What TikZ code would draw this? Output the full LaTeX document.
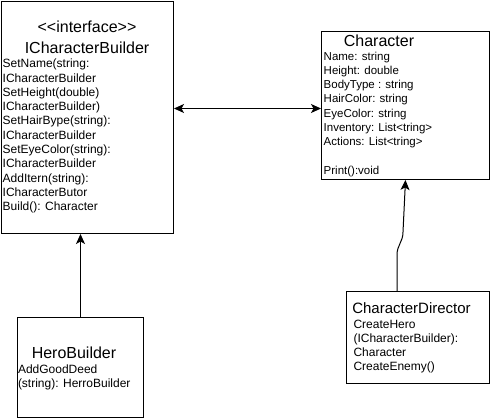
\documentclass[tikz,border=0pt]{standalone}
\usepackage{fontspec}
\setmainfont{Liberation Sans}[Ligatures=TeXOff]
\usepackage{tikz}
\usetikzlibrary{arrows.meta}
\usetikzlibrary{positioning}

\begin{document}
\begin{tikzpicture}[x=1pt,y=-1pt,
		classbox/.style={draw,line width=1pt,anchor=north west,inner sep=0pt},
		title/.style={font=\fontsize{16}{19.2}\selectfont,inner sep=0pt,anchor=base},
		member/.style={font=\fontsize{12}{14.4}\selectfont,inner sep=0pt,anchor=base west},
		link/.style={line width=1pt,-{Stealth[length=10pt,width=9pt,inset=2.5pt]}},
		both/.style={line width=1pt,{Stealth[length=10pt,width=9pt,inset=2.5pt]}-{Stealth[length=10pt,width=9pt,inset=2.5pt]}}
	]
	\useasboundingbox (0,0) rectangle (490,418);

	% the interface ICharacterBuilder
	\node[classbox,minimum width=172pt,minimum height=232pt] (icb) at (1,1) {};
	\begin{scope}[shift={(1,1)}]
		\node[title] (icbstereo) at (86,31.7) {<<interface>>};
		\node[title] (icbname) at (86,52.3) {ICharacterBuilder};
		\foreach \m [count=\i from 0] in {SetName(string:,ICharacterBuilder,SetHeight(double),
			ICharacterBuilder),SetHairBype(string):,ICharacterBuilder,SetEyeColor(string):,
			ICharacterBuilder,AddItern(string):,ICharacterButor,Build(): Character}
		\node[member] (icbm\i) at (1.5,{66.7+14.3*\i}) {\m};
	\end{scope}

	% the class Character
	\node[classbox,minimum width=168pt,minimum height=148pt] (chr) at (321,31) {};
	\begin{scope}[shift={(321,31)}]
		\node[title] (chrname) at (58,15.7) {Character};
		\foreach \i/\m in {0/Name: string,1/Height: double,2/BodyType : string,3/HairColor: string,
			4/EyeColor: string,5/Inventory: List<tring>,6/Actions: List<tring>,8/Print():void}
		\node[member,font=\fontsize{11.5}{14}\selectfont] (chrm\i) at (2.5,{29+14.3*\i}) {\m};
	\end{scope}

	% the class HeroBuilder
	\node[classbox,minimum width=126pt,minimum height=100pt] (hero) at (17,317) {};
	\begin{scope}[shift={(17,317)}]
		\node[title] (heroname) at (57,41) {HeroBuilder};
		\foreach \m [count=\i from 0] in {AddGoodDeed,(string): HerroBuilder}
		\node[member] (herom\i) at (0.8,{56.5+13.7*\i}) {\m};
	\end{scope}

	% the class CharacterDirector
	\node[classbox,minimum width=143pt,minimum height=92pt] (dir) at (346,291) {};
	\begin{scope}[shift={(346,291)}]
		\node[title,font=\fontsize{15}{18}\selectfont] (dirname) at (65.5,22.3) {CharacterDirector};
		\foreach \m [count=\i from 0] in {CreateHero,(ICharacterBuilder):,Character,CreateEnemy()}
		\node[member] (dirm\i) at (7.3,{37.3+13.9*\i}) {\m};
	\end{scope}

	% the bends of the director link
	\coordinate (k1) at (397,255);
	\coordinate (k2) at (403,232);

	% the links
	\draw[both] ([yshift=9pt]icb.east) -- ([yshift=-3pt]chr.west);
	\draw[link] (hero.north) -- (hero.north |- icb.south);
	\draw[link] (dir.north -| k1) -- (k1) .. controls (397,245) and (403,242) .. (k2) -- (chr.south);
\end{tikzpicture}
\end{document}
